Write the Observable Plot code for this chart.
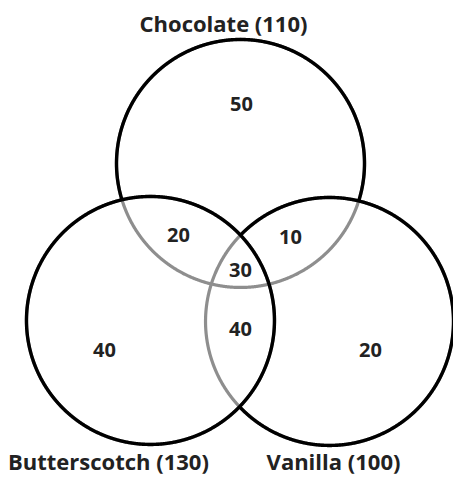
<!DOCTYPE html>
<html>
<head>
<meta charset="utf-8">
<script src="https://cdn.jsdelivr.net/npm/d3@7"></script>
<script src="https://cdn.jsdelivr.net/npm/@observablehq/plot@0.6"></script>
<style>
  html, body { margin: 0; padding: 0; background: #fff; }
</style>
</head>
<body>
<div id="chart"></div>
<script>
// Sets (flavours) and their totals
const categories = ["Chocolate", "Butterscotch", "Vanilla"];
const totals = [110, 130, 100];
// Circle centres in diagram units (radius = 1)
const circleX = [0, -0.726, 0.718];
const circleY = [0.847, -0.419, -0.427];
const circleR = [1, 1, 1];
// Drawing order (lowest layer first): lower circles are grey where covered
const drawOrder = ["Chocolate", "Vanilla", "Butterscotch"];
// Set label positions in diagram units
const labelX = [-0.137, -1.065, 0.75];
const labelY = [1.968, -1.565, -1.565];

// Region counts and their positions
const regionNames = ["Chocolate only", "Chocolate & Butterscotch", "Chocolate & Vanilla", "All three",
                     "Butterscotch & Vanilla", "Butterscotch only", "Vanilla only"];
const regionValues = [50, 20, 10, 30, 40, 40, 20];
const regionX = [0.008, -0.5, 0.403, 0, 0, -1.097, 1.048];
const regionY = [1.323, 0.266, 0.25, -0.016, -0.492, -0.661, -0.661];

const W = 453, H = 477, U = 124, OX = 240, OY = 268;

const circles = drawOrder.map(name => {
  const i = categories.indexOf(name);
  return {name, x: circleX[i], y: circleY[i], r: circleR[i]};
});

// Outline points of each circle; "visible" when not covered by a circle drawn above it
const N = 1440;
const outline = [];
circles.forEach((c, k) => {
  for (let s = 0; s <= N; s++) {
    const t = (2 * Math.PI * s) / N;
    const px = c.x + c.r * Math.cos(t), py = c.y + c.r * Math.sin(t);
    const covered = circles.slice(k + 1).some(o => Math.hypot(px - o.x, py - o.y) < o.r);
    outline.push({name: c.name, x: px, y: py, covered});
  }
});

const labels = categories.map((c, i) => ({text: `${c} (${totals[i]})`, x: labelX[i], y: labelY[i]}));
const regions = regionNames.map((n, i) => ({name: n, value: regionValues[i], x: regionX[i], y: regionY[i]}));

const chart = Plot.plot({
  width: W,
  height: H,
  margin: 0,
  x: {domain: [-OX / U, (W - OX) / U], axis: null},
  y: {domain: [-(H - OY) / U, OY / U], axis: null},
  style: {background: "#fff"},
  marks: [
    Plot.line(outline, {x: "x", y: "y", z: "name", stroke: "#8e8e8e", strokeWidth: 3.2}),
    Plot.line(outline, {x: "x", y: d => d.covered ? NaN : d.y, z: "name", stroke: "black",
                        strokeWidth: 3.4, strokeLinecap: "butt"}),
    Plot.text(regions, {x: "x", y: "y", text: d => String(d.value), fontSize: 20,
                        fontWeight: "bold", fill: "#222", fontFamily: "Open Sans"}),
    Plot.text(labels, {x: "x", y: "y", text: "text", fontSize: 22, fontWeight: "bold",
                       fill: "#222", fontFamily: "Open Sans"})
  ]
});
document.getElementById("chart").append(chart);
</script>
</body>
</html>
